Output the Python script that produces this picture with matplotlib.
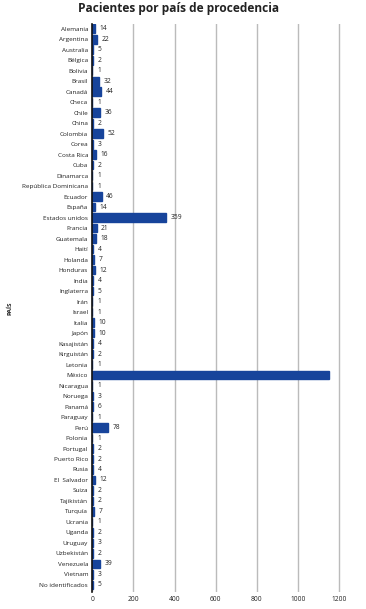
import matplotlib
matplotlib.use("Agg")
import matplotlib.pyplot as plt

plt.rcParams['font.family'] = ['Open Sans', 'DejaVu Sans']

paises = ["Alemania", "Argentina", "Australia", "Bélgica", "Bolivia", "Brasil",
          "Canadá", "Checa", "Chile", "China", "Colombia", "Corea", "Costa Rica",
          "Cuba", "Dinamarca", "República Dominicana", "Ecuador", "España",
          "Estados unidos", "Francia", "Guatemala", "Haití", "Holanda", "Honduras",
          "India", "Inglaterra", "Irán", "Israel", "Italia", "Japón", "Kasajistán",
          "Kirguistán", "Letonia", "México", "Nicaragua", "Noruega", "Panamá",
          "Paraguay", "Perú", "Polonia", "Portugal", "Puerto Rico", "Rusia",
          "El  Salvador", "Suiza", "Tajikistán", "Turquía", "Ucrania", "Uganda",
          "Uruguay", "Uzbekistán", "Venezuela", "Vietnam", "No identificados"]
pacientes = [14, 22, 5, 2, 1, 32, 44, 1, 36, 2, 52, 3, 16, 2, 1, 1, 46, 14, 359,
             21, 18, 4, 7, 12, 4, 5, 1, 1, 10, 10, 4, 2, 1, 1150, 1, 3, 6, 1, 78,
             1, 2, 2, 4, 12, 2, 2, 7, 1, 2, 3, 2, 39, 3, 5]
xticks = [0, 200, 400, 600, 800, 1000, 1200]

fig = plt.figure(figsize=(3.66, 6.09), dpi=100)
ax = fig.add_axes([0.252, 0.028, 0.70, 0.933])

pos = list(range(len(paises)))
ax.barh(pos, pacientes, height=0.82, color='#17449b', edgecolor='#17449b',
        linewidth=1.0, zorder=3)
for p, v in zip(pos, pacientes):
    if v > 1000:
        continue
    ax.text(v + 22, p, str(v), va='center', ha='left', fontsize=4.8, color='#222222')

ax.set_ylim(len(paises) - 0.33, -0.48)
ax.set_xlim(0, 1245)
ax.set_yticks(pos)
ax.set_yticklabels(paises, fontsize=4.6, color='#222222')
ax.set_xticks(xticks)
ax.set_xticklabels([str(t) for t in xticks], fontsize=4.8, color='#222222')
ax.tick_params(axis='both', length=0, pad=3)
ax.grid(axis='x', color='#bbbbbb', linewidth=1, zorder=0)
for s in ['top', 'right', 'bottom']:
    ax.spines[s].set_visible(False)
ax.spines['left'].set_color('#111111')
ax.spines['left'].set_linewidth(1.2)
ax.spines['left'].set_zorder(4)

ax.set_ylabel("PAÍS", fontsize=4.5, color='#222222', fontweight='bold')
ax.yaxis.set_label_coords(-0.31, 0.5)

fig.text(0.487, 0.997, "Pacientes por país de procedencia", ha='center', va='top',
         fontsize=8.6, fontweight='bold', color='#222222')

fig.savefig("out.png", dpi=100)
